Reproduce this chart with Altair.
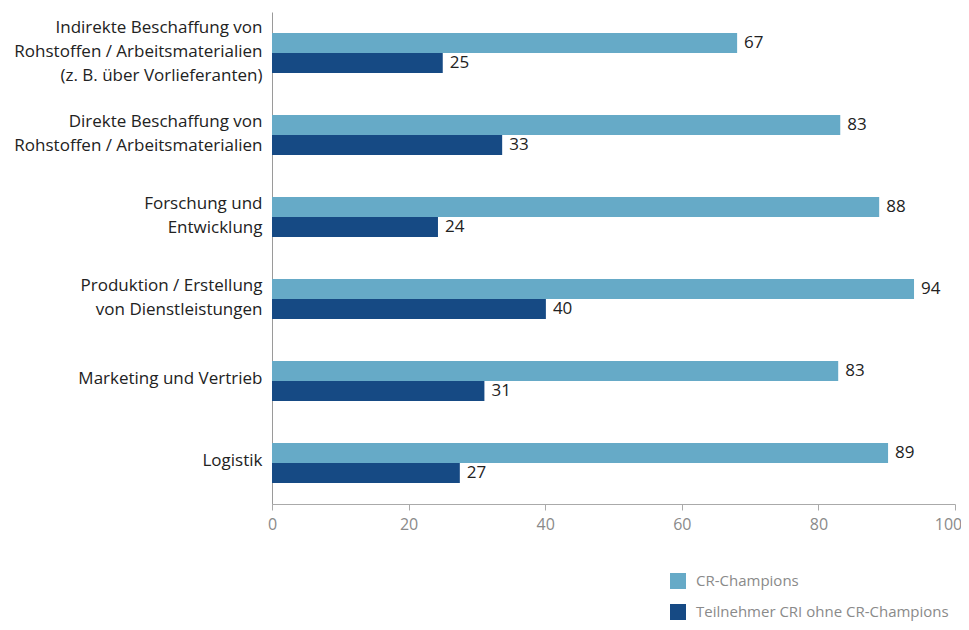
import altair as alt
import pandas as pd

categories = [
    "Indirekte Beschaffung von|Rohstoffen / Arbeitsmaterialien|(z. B. über Vorlieferanten)",
    "Direkte Beschaffung von|Rohstoffen / Arbeitsmaterialien",
    "Forschung und|Entwicklung",
    "Produktion / Erstellung|von Dienstleistungen",
    "Marketing und Vertrieb",
    "Logistik",
]
series = ["CR-Champions", "Teilnehmer CRI ohne CR-Champions"]
# printed value labels
champions_labels = [67, 83, 88, 94, 83, 89]
others_labels = [25, 33, 24, 40, 31, 27]
# bar lengths as drawn in the reference
champions_bars = [68.1, 83.2, 88.9, 94.0, 82.9, 90.2]
others_bars = [25.0, 33.7, 24.3, 40.1, 31.1, 27.5]
colors = ["#66aac7", "#164a84"]

rows = []
for c, la, lb, ba, bb in zip(categories, champions_labels, others_labels, champions_bars, others_bars):
    rows.append({"cat": c, "series": series[0], "value": ba, "label": la})
    rows.append({"cat": c, "series": series[1], "value": bb, "label": lb})
df = pd.DataFrame(rows)

FONT = "Open Sans"

y_enc = alt.Y(
    "cat:N",
    sort=categories,
    scale=alt.Scale(paddingInner=0.512, paddingOuter=0.256),
    axis=alt.Axis(
        title=None,
        labelExpr="split(datum.label, '|')",
        labelFontSize=17,
        labelFont=FONT,
        labelColor="#222222",
        labelLineHeight=24,
        labelPadding=10,
        labelOffset={
            "condition": [
                {"test": "length(split(datum.value, '|')) == 3", "value": -25},
                {"test": "length(split(datum.value, '|')) == 2", "value": -13},
            ],
            "value": -2,
        },
        ticks=False,
        domainColor="#9a9a9a",
        labelLimit=320,
    ),
)
yoff = alt.YOffset("series:N", sort=series)
x_enc = alt.X(
    "value:Q",
    scale=alt.Scale(domain=[0, 100]),
    axis=alt.Axis(
        title=None,
        values=[0, 20, 40, 60, 80, 100],
        grid=False,
        labelFontSize=16,
        labelFont=FONT,
        labelColor="#8a8a8a",
        tickColor="#aaaaaa",
        domainColor="#aaaaaa",
        tickSize=6,
        labelPadding=6,
        labelFlush=False,
        labelOffset={
            "condition": {"test": "datum.value == 100", "value": -7},
            "value": 0,
        },
    ),
)

bars = alt.Chart(df).mark_bar().encode(
    y=y_enc,
    yOffset=yoff,
    x=x_enc,
    color=alt.Color(
        "series:N",
        sort=series,
        scale=alt.Scale(domain=series, range=colors),
        legend=alt.Legend(
            title=None,
            orient="none",
            legendX=398,
            legendY=561,
            symbolType="square",
            symbolSize=256,
            symbolStrokeWidth=0,
            labelFontSize=15,
            labelFont=FONT,
            labelColor="#8a8a8a",
            labelLimit=400,
            rowPadding=15,
            labelOffset=10,
        ),
    ),
)

text = alt.Chart(df).mark_text(
    align="left", baseline="middle", dx=7, fontSize=17, font=FONT, color="#222222"
).encode(
    y=alt.Y("cat:N", sort=categories),
    yOffset=yoff,
    x="value:Q",
    text="label:Q",
)

chart = (
    alt.layer(bars, text)
    .properties(
        width=683,
        height=492,
        autosize=alt.AutoSizeParams(type="none"),
        padding={"left": 264, "top": 4, "right": 6, "bottom": 118},
    )
    .configure_view(stroke=None)
)

chart.save("out.html", embed_options={"renderer": "svg", "actions": False})
